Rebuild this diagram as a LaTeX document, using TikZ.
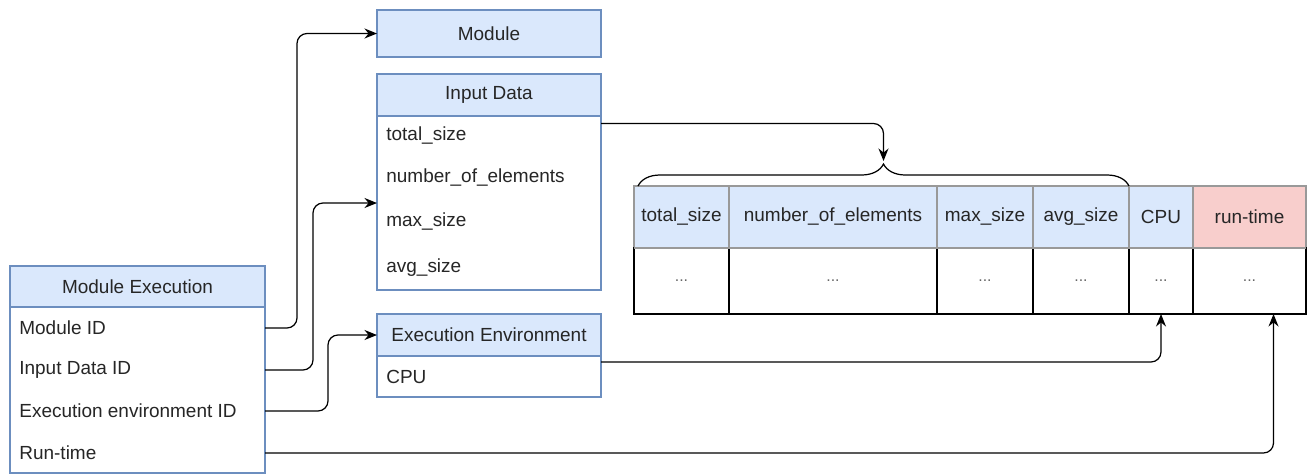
\documentclass[tikz,border=0pt]{standalone}
\usepackage{fontspec}
\setmainfont{Liberation Sans}
\usetikzlibrary{positioning,arrows.meta,decorations.pathreplacing,calc}
\definecolor{kopfblau}{HTML}{DAE8FC}
\definecolor{randblau}{HTML}{6C8EBF}
\definecolor{kopfrot}{HTML}{F8CECC}

\begin{document}
\begin{tikzpicture}[x=0.2mm,y=-0.2mm,font=\fontsize{10.8pt}{13pt}\selectfont,text=black!85,
    kopf/.style={draw=randblau,fill=kopfblau,line width=0.7pt,minimum height=8.4mm,
                 anchor=north west,inner sep=0pt,outer sep=0pt},
    koerper/.style={draw=randblau,fill=white,line width=0.7pt,inner sep=0pt,outer sep=0pt},
    feld/.style={anchor=west,inner sep=0pt},
    zelle/.style={draw=black!40,fill=kopfblau,line width=0.7pt,minimum height=12.4mm,
                  inner sep=0pt,outer sep=0pt},
    leer/.style={draw=black,fill=white,line width=0.7pt,minimum height=13.2mm,
                 inner sep=0pt,outer sep=0pt,font=\fontsize{9pt}{10pt}\selectfont,text=black!60},
    pfeil/.style={-{Stealth[length=2.5mm,width=2mm]},line width=0.7pt,rounded corners=2mm}]
    \useasboundingbox (0,0) rectangle (1309,475);

    % Module Execution
    \node[kopf,minimum width=51mm,minimum height=8.2mm] (mekopf) at (10,266) {Module Execution};
    \node[koerper,minimum width=51mm,minimum height=33.2mm,below=0pt of mekopf] (mekoerper) {};
    \node[feld] (modulid) at (19,328) {Module ID};
    \node[feld] (eingabeid) at (19,370) {Input Data ID};
    \node[feld] (umgebungid) at (19,411) {Execution environment ID};
    \node[feld] (laufzeit) at (19,453) {Run-time};

    % Module
    \node[kopf,minimum width=44.8mm,minimum height=9.4mm] (modul) at (377,10) {Module};

    % Input Data
    \node[kopf,minimum width=44.8mm] (idkopf) at (377,74) {Input Data};
    \node[koerper,minimum width=44.8mm,minimum height=34.8mm,below=0pt of idkopf] (idkoerper) {};
    \node[feld] (total) at (386,136) {total\_size};
    \node[feld] (anzahl) at (386,178) {number\_of\_elements};
    \node[feld] (maxgr) at (386,222) {max\_size};
    \node[feld] (mittel) at (386,268) {avg\_size};

    % Execution Environment
    \node[kopf,minimum width=44.8mm] (eekopf) at (377,314) {Execution Environment};
    \node[koerper,minimum width=44.8mm,minimum height=8.2mm,below=0pt of eekopf] (eekoerper) {};
    \node[feld] (cpu) at (386,377) {CPU};

    % Tabelle
    \node[zelle,minimum width=19mm,anchor=west] (k1) at (634,217) {total\_size};
    \node[zelle,minimum width=41.6mm,right=0pt of k1] (k2) {number\_of\_elements};
    \node[zelle,minimum width=19.2mm,right=0pt of k2] (k3) {max\_size};
    \node[zelle,minimum width=19.2mm,right=0pt of k3] (k4) {avg\_size};
    \node[zelle,minimum width=12.8mm,right=0pt of k4] (k5) {CPU};
    \node[zelle,minimum width=22.6mm,right=0pt of k5,fill=kopfrot] (k6) {run-time};
    \foreach \i/\w in {1/19mm,2/41.6mm,3/19.2mm,4/19.2mm,5/12.8mm,6/22.6mm}
        \node[leer,minimum width=\w,below=0pt of k\i] (z\i) {...};
    \draw[black!40,line width=0.7pt] (k1.south west) -- (k6.south east);

    % Klammer
    \coordinate (klinks) at ([xshift=0.8mm]k1.north west);
    \coordinate (spitze) at ($(klinks)!0.5!(k4.north east)+(0,-25)$);
    \draw[decorate,decoration={brace,amplitude=4.4mm},line width=0.7pt] (klinks) -- (k4.north east);

    % Verbindungen
    \draw[pfeil] (modulid -| mekoerper.east) -- ++(32,0) |- (modul.west);
    \draw[pfeil] (eingabeid -| mekoerper.east) -- ++(48,0) |- (idkoerper.west);
    \draw[pfeil] (umgebungid -| mekoerper.east) -- ++(63,0) |- (eekopf.west);
    \draw[pfeil] (laufzeit -| mekoerper.east) -| ([xshift=4.8mm]z6.south);
    \draw[pfeil] ([yshift=-1.2mm]eekoerper.north east) -| (z5.south);
    \draw[pfeil] ([yshift=-1.5mm]idkoerper.north east) -| (spitze);
\end{tikzpicture}
\end{document}
